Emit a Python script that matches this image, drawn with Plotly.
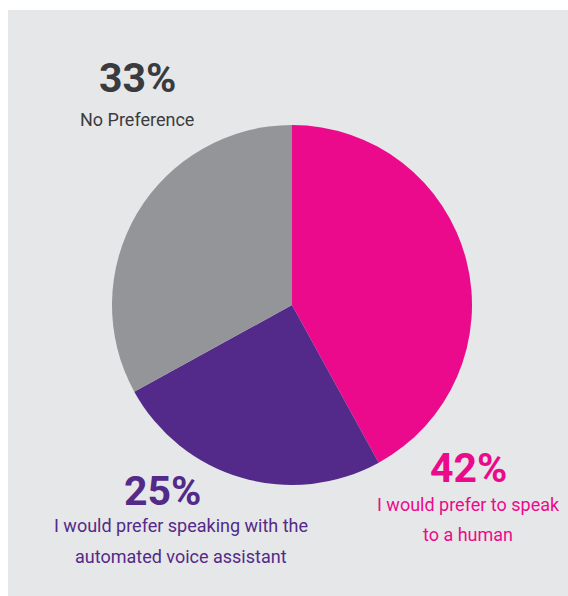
import plotly.graph_objects as go

labels = ['I would prefer to speak to a human',
          'I would prefer speaking with the automated voice assistant',
          'No Preference']
values = [42, 25, 33]
colors = ['#ec0a8c', '#532a89', '#939598']

W, H = 568, 596
FONT = 'Roboto, Arial'

fig = go.Figure(go.Pie(
    labels=labels,
    values=values,
    sort=False,
    direction='clockwise',
    rotation=0,
    marker=dict(colors=colors, line=dict(width=0)),
    textinfo='none',
    hoverinfo='label+percent',
    domain=dict(x=[112 / W, 472 / W], y=[(H - 485) / H, (H - 125) / H]),
))

# grey panel behind the chart
fig.add_shape(type='rect', xref='paper', yref='paper',
              x0=8 / W, x1=1, y0=0, y1=(H - 10) / H,
              fillcolor='#e6e7e8', line=dict(width=0), layer='below')


def label(x, y, text, size, color, bold=False):
    fig.add_annotation(
        xref='paper', yref='paper', x=x / W, y=1 - y / H,
        text=f'<b>{text}</b>' if bold else text,
        showarrow=False, xanchor='center', yanchor='middle',
        font=dict(family=FONT, size=size, color=color),
    )


label(137, 78, f'{values[2]}%', 41, '#3a3b3f', bold=True)
label(137, 119, labels[2], 18, '#3a3b3f')

label(468, 468, f'{values[0]}%', 41, colors[0], bold=True)
label(468, 504, 'I would prefer to speak', 18, colors[0])
label(468, 534, 'to a human', 18, colors[0])

label(162, 491, f'{values[1]}%', 41, colors[1], bold=True)
label(181, 525, 'I would prefer speaking with the', 18, colors[1])
label(181, 556, 'automated voice assistant', 18, colors[1])

fig.update_layout(
    width=W, height=H,
    margin=dict(l=0, r=0, t=0, b=0),
    paper_bgcolor='white',
    showlegend=False,
)

fig.write_html('out.html',
               config={'displayModeBar': False},
               post_script="document.body.style.margin='0';"
                           "document.body.style.overflow='hidden';")
